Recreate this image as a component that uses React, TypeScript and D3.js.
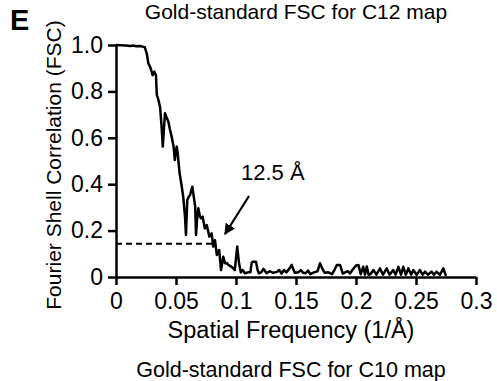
import React from "react";
import * as d3 from "d3";

// spatial frequency (1/Å) and FSC
const freq = [
  0, 0.004, 0.008, 0.012, 0.014, 0.017, 0.02, 0.022, 0.024, 0.0256, 0.027, 0.0285, 0.0297,
  0.0305, 0.032, 0.0333, 0.034, 0.035, 0.0367, 0.038, 0.039, 0.0408, 0.042, 0.0436, 0.045,
  0.0464, 0.048, 0.049, 0.0506, 0.0515, 0.053, 0.0545, 0.056, 0.0575, 0.0583, 0.0594, 0.0605,
  0.0617, 0.0636, 0.065, 0.066, 0.0667, 0.0676, 0.0686, 0.07, 0.0708, 0.0722, 0.074, 0.0756,
  0.0778, 0.0797, 0.081, 0.0825, 0.084, 0.086, 0.0875, 0.0894, 0.0908, 0.0925, 0.0936, 0.095,
  0.0964, 0.098, 0.099, 0.101, 0.1025, 0.104, 0.1055, 0.1075, 0.11, 0.112, 0.113, 0.114,
  0.1167, 0.118, 0.119, 0.121, 0.1228, 0.1256, 0.128, 0.131, 0.134, 0.136, 0.138, 0.14, 0.142,
  0.145, 0.1464, 0.148, 0.149, 0.152, 0.154, 0.156, 0.158, 0.16, 0.162, 0.165, 0.168, 0.17,
  0.172, 0.174, 0.177, 0.18, 0.182, 0.184, 0.1867, 0.189, 0.191, 0.193, 0.195, 0.197, 0.2,
  0.202, 0.204, 0.206, 0.2075, 0.209, 0.2105, 0.212, 0.2145, 0.217, 0.22, 0.2225, 0.2256,
  0.228, 0.231, 0.233, 0.2353, 0.2375, 0.2394, 0.2415, 0.2436, 0.246, 0.2478, 0.2505, 0.2533,
  0.2555, 0.2575, 0.26, 0.263, 0.265, 0.267, 0.27, 0.2728, 0.2745, 0.2756,
];
const fsc = [
  1.0, 0.999, 0.998, 0.996, 0.998, 0.995, 0.996, 0.993, 0.99, 0.964, 0.92, 0.905, 0.885,
  0.87, 0.885, 0.87, 0.785, 0.77, 0.734, 0.648, 0.562, 0.706, 0.69, 0.67, 0.635,
  0.605, 0.562, 0.504, 0.562, 0.53, 0.447, 0.4, 0.346, 0.26, 0.181, 0.332, 0.345,
  0.353, 0.389, 0.34, 0.303, 0.181, 0.25, 0.296, 0.26, 0.253, 0.26, 0.21, 0.224,
  0.174, 0.188, 0.131, 0.159, 0.095, 0.116, 0.03, 0.0875, 0.059, 0.06, 0.052, 0.048,
  0.044, 0.035, 0.03, 0.131, 0.06, 0.02, 0.03, 0.016, 0.02, 0.02, 0.06, 0.066,
  0.066, 0.03, 0.016, 0.02, 0.035, 0.016, 0.025, 0.018, 0.022, 0.03, 0.015, 0.03, 0.02,
  0.04, 0.052, 0.03, 0.018, 0.02, 0.03, 0.018, 0.016, 0.028, 0.012, 0.02, 0.025, 0.059,
  0.035, 0.018, 0.02, 0.012, 0.03, 0.052, 0.052, 0.015, 0.02, 0.025, 0.015, 0.03, 0.05,
  0.052, 0.012, 0.044, 0.01, 0.045, 0.01, 0.012, 0.03, 0.01, 0.037, 0.01, 0.037,
  0.01, 0.03, 0.01, 0.044, 0.01, 0.044, 0.01, 0.037, 0.01, 0.03, 0.01, 0.03,
  0.01, 0.023, 0.01, 0.023, 0.01, 0.023, 0.01, 0.037, 0.01, 0.01,
];

const xTicks = [0, 0.05, 0.1, 0.15, 0.2, 0.25, 0.3];
const xTickLabels = ["0", "0.05", "0.1", "0.15", "0.2", "0.25", "0.3"];
const yTicks = [0, 0.2, 0.4, 0.6, 0.8, 1.0];
const yTickLabels = ["0", "0.2", "0.4", "0.6", "0.8", "1.0"];

const cutoffFsc = 0.143;
const cutoffFreq = 0.08; // 1 / 12.5 Å
const cutoffLabel = "12.5 Å";

const FONT = "'Liberation Sans', Arial, sans-serif";

const FscChart = () => {
  const ref = React.useRef<SVGSVGElement>(null);

  React.useEffect(() => {
    const svg = d3.select(ref.current);
    svg.selectAll("*").remove();

    const margin = { top: 45, right: 21, bottom: 104, left: 116 };
    const width = 497,
      height = 381;

    const x = d3.scaleLinear().domain([0, 0.3]).range([margin.left, width - margin.right]);
    const y = d3.scaleLinear().domain([0, 1]).range([height - margin.bottom, margin.top]);

    // headings
    svg.append("text")
      .attr("x", 296).attr("y", 19)
      .attr("text-anchor", "middle")
      .attr("font-size", 21)
      .text("Gold-standard FSC for C12 map");
    svg.append("text")
      .attr("x", 10).attr("y", 30)
      .attr("font-size", 29).attr("font-weight", "bold")
      .text("E");

    // dashed 0.143 line
    svg.append("line")
      .attr("x1", x(0)).attr("x2", x(cutoffFreq))
      .attr("y1", y(cutoffFsc)).attr("y2", y(cutoffFsc))
      .attr("stroke", "#000").attr("stroke-width", 2)
      .attr("stroke-dasharray", "6,4");

    // the curve
    const pts = freq.map((f, i) => [f, fsc[i]] as [number, number]);
    svg.append("path")
      .datum(pts)
      .attr("fill", "none")
      .attr("stroke", "#000")
      .attr("stroke-width", 2.5)
      .attr("stroke-linejoin", "round")
      .attr("d", d3.line<[number, number]>().x((d) => x(d[0])).y((d) => y(d[1])));

    // axes
    const gx = svg.append("g")
      .attr("transform", `translate(0,${y(0)})`)
      .call(
        d3.axisBottom(x).tickValues(xTicks)
          .tickFormat((_, i) => xTickLabels[i])
          .tickSize(8).tickSizeOuter(0).tickPadding(8)
      );
    const gy = svg.append("g")
      .attr("transform", `translate(${x(0)},0)`)
      .call(
        d3.axisLeft(y).tickValues(yTicks)
          .tickFormat((_, i) => yTickLabels[i])
          .tickSize(8).tickSizeOuter(0).tickPadding(5)
      );
    [gx, gy].forEach((g) => {
      g.selectAll("path, line").attr("stroke", "#000").attr("stroke-width", 2.5);
      g.selectAll("text").attr("font-size", 23).attr("font-family", FONT).attr("fill", "#000");
    });

    // arrow + label
    const defs = svg.append("defs");
    defs.append("marker")
      .attr("id", "arrowhead")
      .attr("viewBox", "0 0 10 10")
      .attr("refX", 9).attr("refY", 5)
      .attr("markerWidth", 5).attr("markerHeight", 5)
      .attr("markerUnits", "strokeWidth")
      .attr("orient", "auto")
      .append("path").attr("d", "M0,0 L10,5 L0,10 Z").attr("fill", "#000");
    svg.append("line")
      .attr("x1", 249).attr("y1", 196)
      .attr("x2", 225).attr("y2", 234)
      .attr("stroke", "#000").attr("stroke-width", 2.2)
      .attr("marker-end", "url(#arrowhead)");
    svg.append("text")
      .attr("x", 241).attr("y", 180)
      .attr("font-size", 22)
      .text(cutoffLabel);

    // axis titles
    svg.append("text")
      .attr("x", 291).attr("y", 338)
      .attr("text-anchor", "middle")
      .attr("font-size", 23.5)
      .text("Spatial Frequency (1/Å)");
    svg.append("text")
      .attr("transform", "translate(61,165) rotate(-90)")
      .attr("text-anchor", "middle")
      .attr("font-size", 21)
      .text("Fourier Shell Correlation (FSC)");
    svg.append("text")
      .attr("x", 291).attr("y", 377)
      .attr("text-anchor", "middle")
      .attr("font-size", 21.5)
      .text("Gold-standard FSC for C10 map");
  }, []);

  return (
    <svg
      ref={ref}
      width={497}
      height={381}
      fontFamily={FONT}
      style={{ position: "absolute", left: 0, top: 0, background: "#fff" }}
    />
  );
};

export default function App() {
  return <FscChart />;
}
